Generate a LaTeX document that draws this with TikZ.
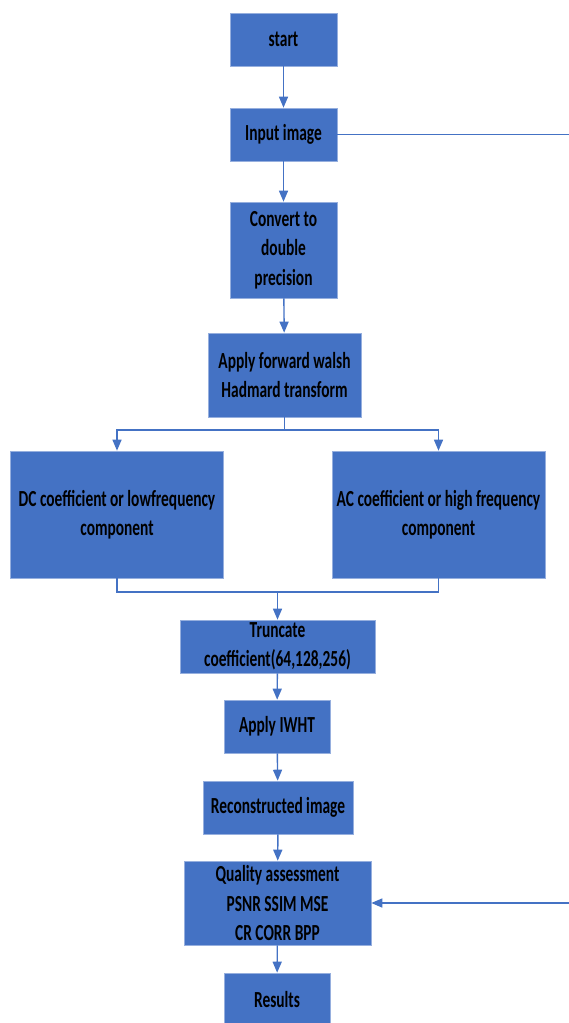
\documentclass[tikz,border=0pt]{standalone}
\usepackage{fontspec}
\setmainfont{Carlito}[FakeStretch=0.67]
\usetikzlibrary{arrows.meta}
\definecolor{boxblue}{RGB}{68,114,196}
\definecolor{edgeblue}{RGB}{150,175,222}
\definecolor{lineblue}{RGB}{68,114,196}
\tikzset{
  box/.style={rectangle, fill=boxblue, draw=edgeblue, line width=0.6pt, inner sep=0pt,
    align=center, text=black, font=\fontsize{23}{29.5}\selectfont\bfseries},
  conn/.style={draw=lineblue, line width=1.4pt},
  arr/.style={conn, -{Triangle[width=9pt,length=11pt]}}
}
\begin{document}
\begin{tikzpicture}[x=1pt,y=-1pt]
\useasboundingbox (0,0) rectangle (568,1023);
\node[box, minimum width=107, minimum height=53] (start) at (283.5,39.5) {start};
\node[box, minimum width=107, minimum height=53] (input) at (283.5,134.5) {Input image};
\node[box, minimum width=107, minimum height=96] (conv) at (283.5,250) {Convert to\\double\\precision};
\node[box, minimum width=153, minimum height=84] (fwht) at (284.5,375) {Apply forward walsh\\Hadmard transform};
\node[box, minimum width=213, minimum height=127] (dc) at (117,514.5) {DC coefficient or lowfrequency\\component};
\node[box, minimum width=213, minimum height=127] (ac) at (438.5,514.5) {AC coefficient or high frequency\\component};
\node[box, minimum width=195, minimum height=53] (trunc) at (277.5,646.5) {Truncate\\coefficient(64,128,256)};
\node[box, minimum width=106, minimum height=53] (iwht) at (277,726.5) {Apply IWHT};
\node[box, minimum width=150, minimum height=53] (recon) at (278,807.5) {Reconstructed image};
\node[box, minimum width=187, minimum height=84] (qa) at (277.5,903) {Quality assessment\\PSNR SSIM MSE\\CR CORR BPP};
\node[box, minimum width=106, minimum height=54] (res) at (277,1000) {Results};

\coordinate (split) at (284.5,430);
\coordinate (merge) at (277.5,592);
\coordinate (r1) at (572,134.5);
\coordinate (r2) at (572,903);

\draw[arr] (start) -- (input);
\draw[arr] (input) -- (conv);
\draw[arr] (conv) -- (fwht);
\draw[conn] (fwht.south) -- (split);
\draw[arr] (split) -| (dc.north);
\draw[arr] (split) -| (ac.north);
\draw[conn] (dc.south) |- (merge);
\draw[conn] (ac.south) |- (merge);
\draw[arr] (merge) -- (trunc.north);
\draw[arr] (trunc) -- (iwht);
\draw[arr] (iwht) -- (recon);
\draw[arr] (recon) -- (qa);
\draw[arr] (qa) -- (res);
\draw[arr] (input.east) -- (r1) -- (r2) -- (qa.east);
\end{tikzpicture}
\end{document}
